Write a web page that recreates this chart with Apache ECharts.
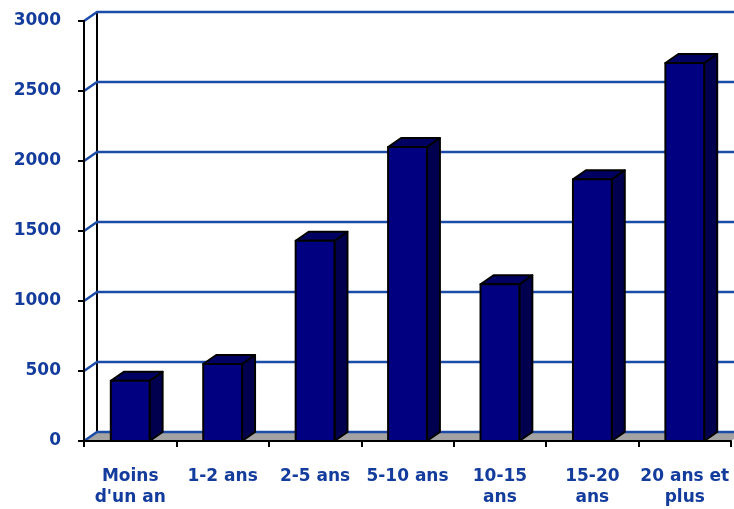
<!DOCTYPE html>
<html>
<head>
<meta charset="utf-8">
<script src="https://cdn.jsdelivr.net/npm/echarts@6/dist/echarts.min.js"></script>
<style>
  html, body { margin: 0; padding: 0; background: #ffffff; }
  #chart { width: 734px; height: 509px; }
</style>
</head>
<body>
<div id="chart"></div>
<script>
// Durée (ancienneté) par tranche
const categories = ['Moins\nd\'un an', '1-2 ans', '2-5 ans', '5-10 ans', '10-15\nans', '15-20\nans', '20 ans et\nplus'];
const values = [430, 550, 1430, 2100, 1120, 1870, 2700];
const yTicks = [0, 500, 1000, 1500, 2000, 2500, 3000];

// depth of the pseudo-3D box (pixels)
const DX = 13, DY = -9;
const TEXT_BLUE = '#143c9c';
const GRID_BLUE = '#1b4ca8';

const chart = echarts.init(document.getElementById('chart'), null, { renderer: 'canvas' });

// back wall, left wall and floor, drawn from the y-axis tick values
function renderWalls(params, api) {
  const cs = params.coordSys;
  const v = api.value(1);
  const y = api.coord([0, v])[1];
  const left = cs.x, right = cs.x + cs.width;
  const children = [];
  if (params.dataIndex === 0) {
    const yb = y;
    children.push({
      type: 'polygon',
      shape: { points: [[left, yb], [right, yb], [right + DX, yb + DY], [left + DX, yb + DY]] },
      style: { fill: '#a3a3a3', stroke: null }
    });
    // back edge of the left wall
    children.push({
      type: 'line',
      shape: { x1: left + DX, y1: cs.y + DY, x2: left + DX, y2: yb + DY },
      style: { stroke: '#000', lineWidth: 2 }
    });
  }
  children.push({
    type: 'polyline',
    shape: { points: [[left, y], [left + DX, y + DY], [right + DX + 20, y + DY]] },
    style: { stroke: GRID_BLUE, lineWidth: 2.5, fill: null }
  });
  return { type: 'group', children: children };
}

// one box per category
function renderBox(params, api) {
  const i = api.value(0);
  const v = api.value(1);
  const base = api.coord([i, 0]);
  const top = api.coord([i, v]);
  const band = api.size([1, 0])[0];
  const w = band * 0.42;
  const x0 = base[0] - w / 2, x1 = base[0] + w / 2;
  const y0 = base[1], y1 = top[1];
  const edge = { stroke: '#000', lineWidth: 2, lineJoin: 'round' };
  return {
    type: 'group',
    children: [
      { type: 'polygon', shape: { points: [[x1, y1], [x1 + DX, y1 + DY], [x1 + DX, y0 + DY], [x1, y0]] },
        style: Object.assign({ fill: '#00004f' }, edge) },
      { type: 'polygon', shape: { points: [[x0, y1], [x0 + DX, y1 + DY], [x1 + DX, y1 + DY], [x1, y1]] },
        style: Object.assign({ fill: '#000062' }, edge) },
      { type: 'rect', shape: { x: x0, y: y1, width: w, height: y0 - y1 },
        style: Object.assign({ fill: '#000080' }, edge) }
    ]
  };
}

const labelFont = {
  color: TEXT_BLUE,
  fontFamily: '"DejaVu Sans", sans-serif',
  fontWeight: 'bold',
  fontSize: 17
};

chart.setOption({
  animation: false,
  backgroundColor: '#ffffff',
  grid: { left: 84, right: 3, top: 21, bottom: 68, containLabel: false },
  xAxis: {
    type: 'category',
    data: categories,
    z: 5,
    axisLine: { lineStyle: { color: '#000', width: 2 } },
    axisTick: { show: true, length: 6, alignWithLabel: false, lineStyle: { color: '#000', width: 2 } },
    axisLabel: Object.assign({ interval: 0, margin: 25, lineHeight: 21 }, labelFont),
    splitLine: { show: false }
  },
  yAxis: {
    type: 'value',
    min: 0,
    max: 3000,
    interval: 500,
    z: 5,
    axisLine: { show: true, lineStyle: { color: '#000', width: 2 } },
    axisTick: { show: true, length: 6, lineStyle: { color: '#000', width: 2 } },
    axisLabel: Object.assign({ margin: 23, formatter: function (v) { return String(v); } }, labelFont),
    splitLine: { show: false }
  },
  series: [
    {
      type: 'custom',
      z: 1,
      silent: true,
      clip: false,
      renderItem: renderWalls,
      data: yTicks.map(function (t) { return [0, t]; })
    },
    {
      type: 'custom',
      z: 3,
      silent: true,
      clip: false,
      renderItem: renderBox,
      data: values.map(function (v, i) { return [i, v]; })
    }
  ]
});
</script>
</body>
</html>
